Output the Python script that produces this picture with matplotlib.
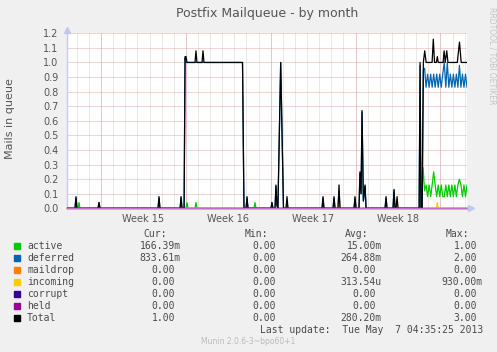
import matplotlib
matplotlib.use("Agg")
import matplotlib.pyplot as plt
import pandas as pd

W, H = 497, 352

# munin month view: 33 days ending at last update
start = pd.Timestamp("2013-04-04 04:35:25")
end = pd.Timestamp("2013-05-07 04:35:25")
week_labels = ["Week 15", "Week 16", "Week 17", "Week 18"]
week_starts = pd.to_datetime(["2013-04-07", "2013-04-14", "2013-04-21", "2013-04-28", "2013-05-05"])

# times are days since start
total_t = [0, 0.66, 0.74, 0.82, 2.56, 2.64, 2.72, 7.51, 7.59, 7.67, 9.33, 9.41, 9.49,
           9.66, 9.74, 9.82, 9.90, 10.56, 10.64, 10.72, 11.14, 11.22, 11.30, 14.48, 14.60,
           14.77, 14.85, 14.93, 16.83, 16.91, 16.99, 17.16, 17.24, 17.32, 17.40, 17.63, 17.86,
           18.07, 18.15, 18.23, 21.04, 21.12, 21.20, 21.95, 22.03, 22.11, 22.36, 22.44, 22.52,
           23.68, 23.76, 23.84, 24.09, 24.17, 24.26, 24.34, 24.45, 24.59, 24.67, 24.75,
           26.24, 26.32, 26.40, 26.90, 26.98, 27.06, 27.15, 27.23, 27.31,
           29.05, 29.13, 29.20, 29.30, 29.40, 29.51, 29.63, 30.12, 30.22, 30.32, 30.47, 30.55,
           30.63, 31.03, 31.11, 31.20, 31.33, 31.43, 32.20, 32.38, 32.52, 33.0]
total_v = [0, 0, 0.08, 0, 0, 0.04, 0, 0, 0.08, 0, 0, 0.08, 0,
           0, 1.04, 1.04, 1.0, 1.0, 1.08, 1.0, 1.0, 1.08, 1.0, 1.0, 0,
           0, 0.08, 0, 0, 0.04, 0, 0, 0.16, 0.02, 0, 1.0, 0,
           0, 0.08, 0, 0, 0.08, 0, 0, 0.08, 0, 0, 0.16, 0,
           0, 0.08, 0, 0, 0.25, 0.10, 0.67, 0.05, 0.16, 0, 0,
           0, 0.08, 0, 0, 0.13, 0, 0, 0.08, 0,
           0, 1.0, 0, 0, 1.0, 1.08, 1.0, 1.0, 1.16, 1.0, 1.0, 1.04,
           1.0, 1.0, 1.08, 1.0, 1.08, 1.0, 1.0, 1.14, 1.0, 1.0]

deferred_t = [0, 0.66, 0.74, 0.82, 2.56, 2.64, 2.72, 7.51, 7.59, 7.67, 9.33, 9.41, 9.49,
              9.66, 9.74, 9.82, 9.90, 14.48, 14.60, 14.77, 14.85, 14.93, 16.83, 16.91, 16.99,
              17.16, 17.24, 17.32, 17.40, 17.63, 17.86, 21.04, 21.12, 21.20, 21.95, 22.03, 22.11,
              22.36, 22.44, 22.52, 23.68, 23.76, 23.84, 24.09, 24.17, 24.26, 24.34, 24.45, 24.59,
              24.67, 24.75, 26.24, 26.32, 26.40, 26.90, 26.98, 27.06,
              29.05, 29.13, 29.20, 29.30, 29.40,
              29.50, 29.625, 29.75, 29.875, 30.0, 30.125, 30.25, 30.375, 30.5, 30.625, 30.75,
              30.875, 31.0, 31.125, 31.25, 31.375, 31.5, 31.625, 31.75, 31.875, 32.0, 32.125,
              32.25, 32.375, 32.5, 32.625, 32.75, 32.875, 33.0]
deferred_v = [0, 0, 0.07, 0, 0, 0.04, 0, 0, 0.07, 0, 0, 0.07, 0,
              0, 1.03, 1.0, 1.0, 1.0, 0, 0, 0.07, 0, 0, 0.04, 0,
              0, 0.15, 0.02, 0, 1.0, 0, 0, 0.07, 0, 0, 0.07, 0,
              0, 0.12, 0, 0, 0.07, 0, 0, 0.24, 0.10, 0.66, 0.05, 0.15,
              0, 0, 0, 0.07, 0, 0, 0.12, 0,
              0, 0.98, 0, 0, 0.95,
              0.96, 0.83, 0.92, 0.83, 0.92, 0.83, 0.92, 0.83, 0.92, 0.83, 0.92,
              0.83, 0.92, 1.0, 0.83, 1.0, 0.83, 0.92, 0.83, 0.92, 0.83, 0.92,
              0.83, 0.98, 0.83, 0.92, 0.83, 0.92, 0.83]

active_t = [0, 0.91, 0.99, 1.07, 9.82, 9.90, 9.98, 10.56, 10.64, 10.72, 15.43, 15.51, 15.59,
            18.07, 18.15, 18.23, 29.25, 29.375,
            29.50, 29.625, 29.75, 29.875, 30.0, 30.125, 30.25, 30.375, 30.5, 30.625, 30.75,
            30.875, 31.0, 31.125, 31.25, 31.375, 31.5, 31.625, 31.75, 31.875, 32.0, 32.125,
            32.25, 32.375, 32.5, 32.625, 32.75, 32.875, 33.0]
active_v = [0, 0, 0.04, 0, 0, 0.04, 0, 0, 0.04, 0, 0, 0.04, 0,
            0, 0.04, 0, 0, 0.28,
            0.12, 0.16, 0.08, 0.16, 0.08, 0.16, 0.25, 0.16, 0.08, 0.16, 0.08,
            0.16, 0.08, 0.08, 0.16, 0.08, 0.16, 0.08, 0.16, 0.08, 0.16, 0.08,
            0.16, 0.20, 0.16, 0.08, 0.16, 0.08, 0.16]

incoming_t = [0, 22.36, 22.44, 22.52, 27.15, 27.23, 27.31, 30.47, 30.55, 30.63, 33.0]
incoming_v = [0, 0, 0.04, 0, 0, 0.04, 0, 0, 0.04, 0, 0]

zero_t = [0, 33.0]
zero_v = [0, 0]

names = ["active", "deferred", "maildrop", "incoming", "corrupt", "held", "Total"]
colors = ["#00CC00", "#0066B3", "#FF8000", "#FFCC00", "#330099", "#990099", "#000000"]
cur = ["166.39m", "833.61m", "0.00", "0.00", "0.00", "0.00", "1.00"]
mins = ["0.00", "0.00", "0.00", "0.00", "0.00", "0.00", "0.00"]
avgs = ["15.00m", "264.88m", "0.00", "313.54u", "0.00", "0.00", "280.20m"]
maxs = ["1.00", "2.00", "0.00", "930.00m", "0.00", "0.00", "3.00"]
last_update = "Last update:  Tue May  7 04:35:25 2013"

txt = "#555555"
fig = plt.figure(figsize=(W / 100, H / 100), dpi=100, facecolor="#F0F0F0")


def fx(x):
    return x / W


def fy(y):
    return 1 - y / H


left, right, top, bottom = 67, 467, 33.3, 208.3
ax = fig.add_axes([fx(left), fy(bottom), (right - left) / W, (bottom - top) / H])
ax.set_facecolor("white")
span = (end - start) / pd.Timedelta(days=1)
ax.set_xlim(0, span)
ax.set_ylim(0, 1.2)

# grid
days = pd.date_range("2013-04-05", "2013-05-07", freq="D")
for d in days:
    ax.axvline((d - start) / pd.Timedelta(days=1), color="#d4d4d4", lw=0.72,
               ls=(0, (1, 1)), zorder=1)
for d in week_starts:
    ax.axvline((d - start) / pd.Timedelta(days=1), color="#e8a8a8", lw=0.72,
               ls=(0, (1, 1)), zorder=1.5)
for yv in [i / 10 for i in range(1, 13)]:
    ax.axhline(yv, color="#e8a8a8", lw=0.72, ls=(0, (1, 1)), zorder=1.5)

lw = 0.9
ax.plot(active_t, active_v, color=colors[0], lw=lw, zorder=3)
ax.plot(deferred_t, deferred_v, color=colors[1], lw=lw, zorder=3.1)
ax.plot(zero_t, zero_v, color=colors[2], lw=lw, zorder=3.2, clip_on=False)
ax.plot(incoming_t, incoming_v, color=colors[3], lw=lw, zorder=3.3, clip_on=False)
ax.plot(zero_t, zero_v, color=colors[4], lw=lw, zorder=3.4, clip_on=False)
ax.plot(total_t, total_v, color=colors[6], lw=lw, zorder=3.5)
ax.plot(zero_t, zero_v, color="#c070c8", lw=1.0, zorder=4, clip_on=False)

ax.set_yticks([i / 10 for i in range(13)])
ax.set_yticklabels(["%.1f" % (i / 10) for i in range(13)])
ax.tick_params(axis="y", length=0, pad=6, labelsize=7, labelcolor=txt)
wk_pos = [(d - start) / pd.Timedelta(days=1) + 3.5 for d in week_starts[:4]]
ax.set_xticks(wk_pos)
ax.set_xticklabels(week_labels)
ax.tick_params(axis="x", length=0, pad=4, labelsize=7, labelcolor=txt)
for s in ["top", "right"]:
    ax.spines[s].set_visible(False)
ax.spines["left"].set_color("#c8c8f0")
ax.spines["bottom"].set_color("#c8c8f0")
ax.spines["left"].set_linewidth(1)
ax.spines["bottom"].set_linewidth(1)
# axis arrows
ax.plot([0], [1.225], marker="^", ms=4, color="#c0c8f0", clip_on=False, zorder=5)
ax.plot([span + 0.35], [0], marker=">", ms=4, color="#c0c8f0", clip_on=False, zorder=5)

fig.text(fx(267), fy(13), "Postfix Mailqueue - by month", ha="center", va="center",
         fontsize=9, color=txt)
fig.text(fx(10), fy(119), "Mails in queue", rotation=90, ha="center", va="center",
         fontsize=8, color=txt)
fig.text(fx(492), fy(56), "RRDTOOL / TOBI OETIKER", rotation=270, ha="center",
         va="center", fontsize=5.5, color="#c4c4c4")

mono = "DejaVu Sans Mono"
lg = "#4a4a4a"
for hdr, xr in zip(["Cur:", "Min:", "Avg:", "Max:"], [167, 268, 368, 469]):
    fig.text(fx(xr), fy(234), hdr, ha="right", va="center", family=mono,
             fontsize=7, color=lg)

col_x = [175, 276, 376, 477]
char_w = 5.85  # monospace advance in px
for i, name in enumerate(names):
    y = 245.7 + 12 * i
    fig.patches.append(plt.Rectangle((fx(14), fy(y + 3)), 6 / W, 6 / H,
                                     transform=fig.transFigure, color=colors[i]))
    fig.text(fx(27), fy(y), name, ha="left", va="center", family=mono,
             fontsize=7, color=lg)
    for col, xr in zip([cur, mins, avgs, maxs], col_x):
        s = col[i]
        xe = xr + char_w if s[-1].isalpha() else xr
        fig.text(fx(xe), fy(y), s, ha="right", va="center", family=mono,
                 fontsize=7, color=lg)

fig.text(fx(483), fy(329.7), last_update, ha="right", va="center", family=mono,
         fontsize=7, color=lg)
fig.text(fx(248), fy(341), "Munin 2.0.6-3~bpo60+1", ha="center", va="center",
         fontsize=5.5, color="#bbbbbb")

fig.savefig("out.png", dpi=100, facecolor=fig.get_facecolor())
